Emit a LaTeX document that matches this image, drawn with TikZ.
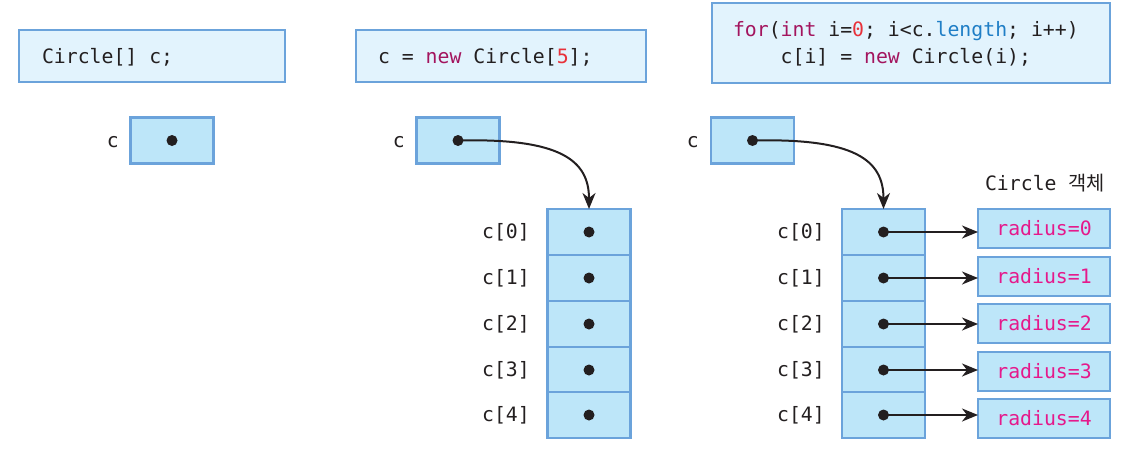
\documentclass[tikz,border=0pt]{standalone}
\usepackage{fontspec}
\setmonofont{DejaVu Sans Mono}
\newfontfamily\krfont{Noto Sans CJK KR}
\usetikzlibrary{arrows.meta}
\definecolor{codefill}{HTML}{E2F3FD}
\definecolor{cellfill}{HTML}{BDE6F9}
\definecolor{edge}{HTML}{6BA3DB}
\definecolor{ink}{HTML}{231F20}
\definecolor{kw}{HTML}{A3145E}
\definecolor{num}{HTML}{E8313A}
\definecolor{fld}{HTML}{1F7EC6}
\definecolor{rad}{HTML}{E5198B}
\newcommand\monofont{\ttfamily\frenchspacing\fontsize{19.8}{27}\selectfont}
\newcommand\fixsp{\spaceskip=0.602em\relax\xspaceskip=0.602em\relax}
\tikzset{
  codebox/.style={draw=edge, fill=codefill, line width=2.2pt, anchor=north west, align=left, inner ysep=0pt, outer sep=0pt, font=\monofont, text=ink},
  refbox/.style={draw=edge, fill=cellfill, line width=2.2pt, minimum width=83pt, minimum height=46pt, outer sep=0pt, inner sep=0pt},
  radbox/.style={draw=edge, fill=cellfill, line width=2.2pt, minimum width=132pt, minimum height=39pt, outer sep=0pt, inner sep=0pt, anchor=north west, text=rad, font=\monofont},
  lbl/.style={text=ink, font=\monofont, inner sep=0pt},
  dotmark/.style={circle, fill=ink, minimum size=11pt, inner sep=0pt},
  ptr/.style={draw=ink, line width=2pt, -{Stealth[length=16pt, width=13pt, inset=5pt]}}
}
\begin{document}
\begin{tikzpicture}[x=1pt, y=-1pt]
\useasboundingbox (0,0) rectangle (1145,463);
% code boxes
\node (code1) [codebox, text depth=0pt, minimum height=52pt, inner xsep=23pt, text width=220pt] at (19,30) {\fixsp Circle[] c;};
\node (code2) [codebox, text depth=0pt, minimum height=52pt, inner xsep=22pt, text width=246pt] at (356,30) {\fixsp c = \textcolor{kw}{new} Circle[\textcolor{num}{5}];};
\node (code3) [codebox, text depth=28pt, minimum height=80pt, inner xsep=21pt, text width=356pt] at (712,3) {\fixsp\textcolor{kw}{for}(\textcolor{kw}{int} i=\textcolor{num}{0}; i<c.\textcolor{fld}{length}; i++)\\\phantom{c[i]}c[i] = \textcolor{kw}{new} Circle(i);};

% panel 1
\node (r1) [refbox, minimum height=46pt] at (172,140.5) {};
\node (d1) [dotmark] at (r1.center) {};
\node (l1) [lbl, anchor=east] at (119,142) {c};

% panel 2
\node (r2) [refbox] at (458,140.5) {};
\node (d2) [dotmark] at (r2.center) {};
\node (l2) [lbl, anchor=east] at (405,142) {c};
\foreach \y [count=\j from 0] in {232,278,324,370,415}{
  \node (a\j) [refbox] at (589,\y) {};
  \node (ad\j) [dotmark] at (a\j.center) {};
  \node (al\j) [lbl, anchor=east] at (530,\y) {c[\j]};
}
\draw[ptr] (d2.center) .. controls (560,138) and (589,160) .. (a0.north);

% panel 3
\node (r3) [refbox] at (752.5,140.5) {};
\node (d3) [dotmark] at (r3.center) {};
\node (l3) [lbl, anchor=east] at (699,142) {c};
\node (obj) [lbl] at (1045,183) {Circle {\krfont 객체}};
\foreach \y/\t [count=\j from 0] in {232/209,278/257,324/304,370/352,415/399}{
  \node (b\j) [refbox] at (883.5,\y) {};
  \node (bd\j) [dotmark] at (b\j.center) {};
  \node (bl\j) [lbl, anchor=east] at (825,\y) {c[\j]};
  \node (o\j) [radbox] at (978,\t) {radius=\j};
  \draw[ptr] (bd\j.center) -- (o\j.west |- bd\j.center);
}
\draw[ptr] (d3.center) .. controls (855,138) and (883.5,160) .. (b0.north);
\end{tikzpicture}
\end{document}
